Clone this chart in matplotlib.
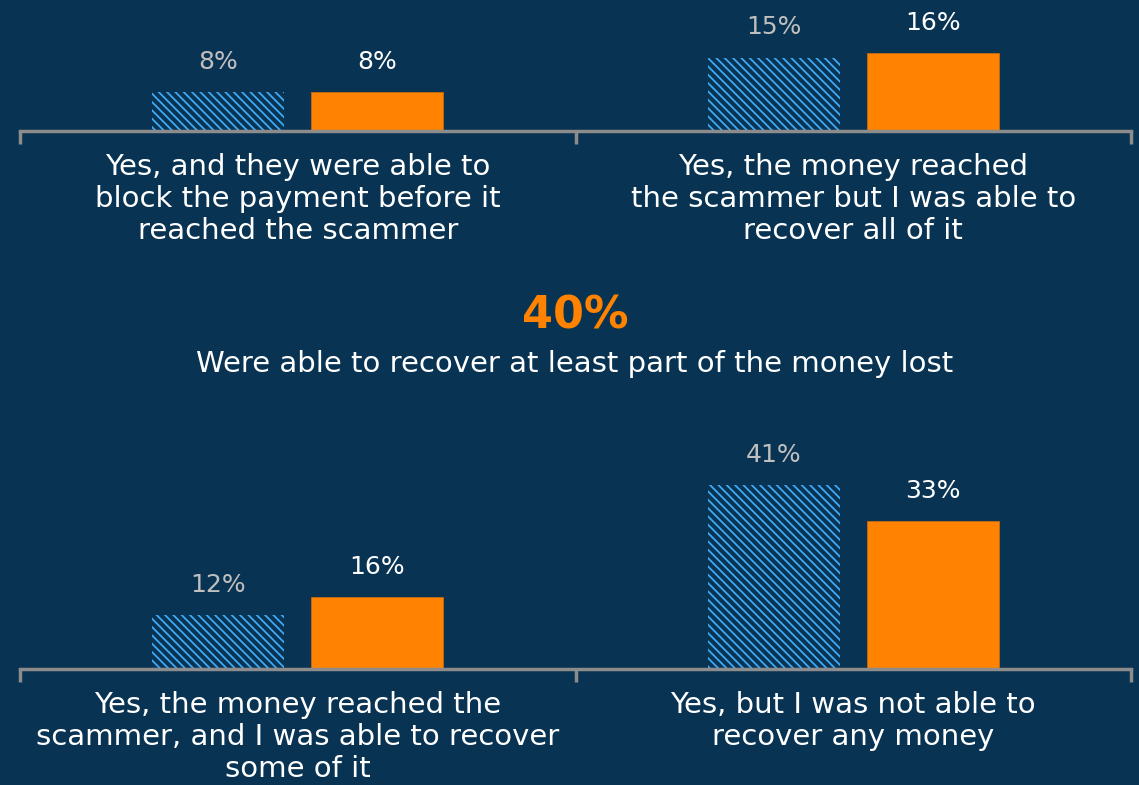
import matplotlib
matplotlib.use("Agg")
import matplotlib.pyplot as plt

plt.rcParams['font.family'] = ['DejaVu Sans']
plt.rcParams['hatch.linewidth'] = 1.3
plt.rcParams['hatch.color'] = '#3FA9F5'

bg = '#083352'
orange = '#FF8200'

top_cats = ["Yes, and they were able to\nblock the payment before it\nreached the scammer",
            "Yes, the money reached\nthe scammer but I was able to\nrecover all of it"]
top_prev = [8, 15]
top_curr = [8, 16]

bot_cats = ["Yes, the money reached the\nscammer, and I was able to recover\nsome of it",
            "Yes, but I was not able to\nrecover any money"]
bot_prev = [12, 41]
bot_curr = [16, 33]

headline = "40%"
subline = "Were able to recover at least part of the money lost"

W, H = 1139, 785
fig = plt.figure(figsize=(W / 100, H / 100), dpi=100)
fig.patch.set_facecolor(bg)

def panel(base_px, px_per_pct, ymax, cats, prev, curr):
    left, right = 20, 1131
    h = ymax * px_per_pct
    ax = fig.add_axes([left / W, 1 - base_px / H, (right - left) / W, h / H])
    ax.set_facecolor('none')
    x = [0, 1]
    bw = 0.237
    off = 0.143
    ax.bar([i - off for i in x], prev, bw, color='none', edgecolor='#3FA9F5',
           hatch='\\\\\\\\', linewidth=0)
    ax.bar([i + off for i in x], curr, bw, color=orange, edgecolor='#C86A10', linewidth=0.6)
    for i in x:
        ax.annotate(f"{prev[i]}%", (i - off, prev[i]), xytext=(0, 18), textcoords='offset pixels',
                    ha='center', va='bottom', color='#BFBFBF', fontsize=18, annotation_clip=False)
        ax.annotate(f"{curr[i]}%", (i + off, curr[i]), xytext=(0, 18), textcoords='offset pixels',
                    ha='center', va='bottom', color='white', fontsize=18, annotation_clip=False)
    ax.set_xlim(-0.5, 1.5)
    ax.set_ylim(0, ymax)
    for s in ['top', 'right', 'left']:
        ax.spines[s].set_visible(False)
    ax.spines['bottom'].set_color('#8C8C8C')
    ax.spines['bottom'].set_linewidth(2.5)
    ax.set_yticks([])
    ax.set_xticks([-0.5, 0.5, 1.5])
    ax.set_xticklabels([])
    ax.tick_params(axis='x', length=9, width=2.5, color='#8C8C8C')
    for i in x:
        ax.annotate(cats[i], (i, 0), xytext=(0, -22), textcoords='offset pixels',
                    ha='center', va='top', color='white', fontsize=21,
                    linespacing=1.18, annotation_clip=False)
    return ax

panel(131, 4.9, 24, top_cats, top_prev, top_curr)
panel(669, 4.5, 44, bot_cats, bot_prev, bot_curr)

fig.text(575 / W, 1 - 316 / H, headline, ha='center', va='center', color=orange,
         fontsize=32, fontweight='bold')
fig.text(575 / W, 1 - 364 / H, subline, ha='center', va='center', color='white', fontsize=21)

fig.savefig('out.png', dpi=100, facecolor=bg)
